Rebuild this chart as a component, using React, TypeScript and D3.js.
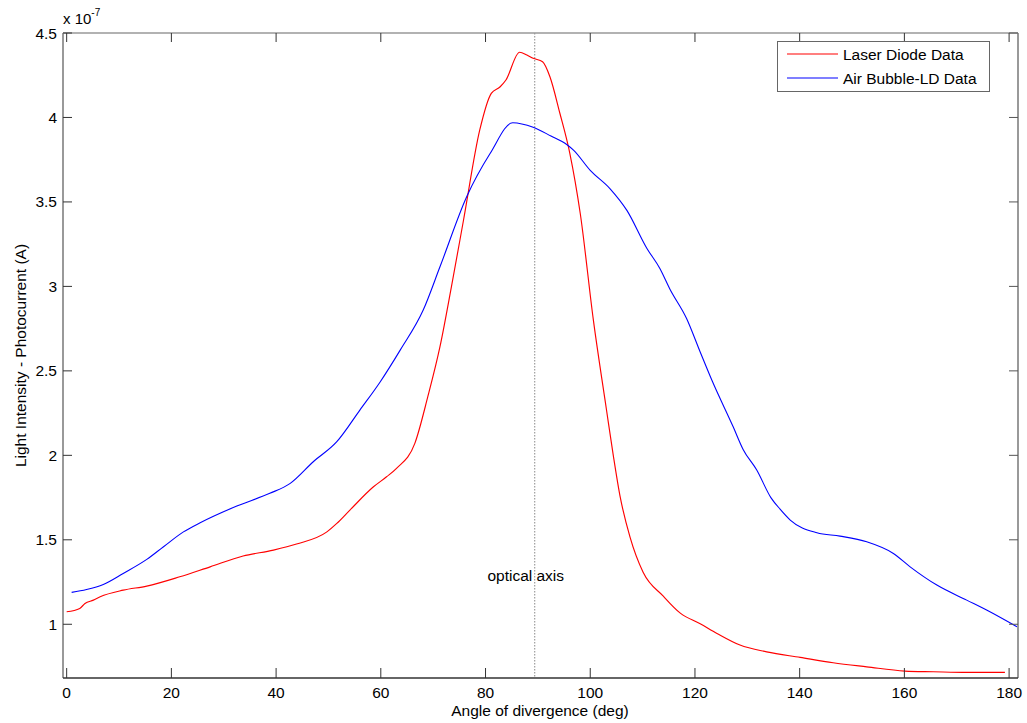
import React from "react";
import * as d3 from "d3";

const laserX = [0, 2.5, 3.5, 5.1, 6.4, 10.8, 15.3, 21.6, 27.4, 33.7, 39.5, 43.9, 49.7, 51.6, 54.1, 58.6, 61.1, 63, 66.5, 69, 71.3, 73.5, 75.8, 78.9, 81.1, 82.8, 83.9, 86.5, 87.9, 89.1, 90.9, 92.3, 94.2, 96.1, 98.1, 100.6, 103.1, 104.4, 105.7, 107.6, 110.1, 114, 117.2, 121, 124.2, 128.6, 133.7, 140.1, 146.4, 152.8, 160.1, 165.5, 171.9, 179.2];
const laserY = [1.074, 1.094, 1.123, 1.143, 1.163, 1.202, 1.226, 1.281, 1.34, 1.404, 1.439, 1.475, 1.547, 1.597, 1.676, 1.814, 1.873, 1.923, 2.071, 2.35, 2.643, 3.0, 3.393, 3.926, 4.143, 4.182, 4.222, 4.386, 4.37, 4.35, 4.33, 4.241, 4.025, 3.788, 3.43, 2.8, 2.27, 2.0, 1.757, 1.516, 1.308, 1.165, 1.066, 1.003, 0.946, 0.877, 0.837, 0.804, 0.772, 0.748, 0.723, 0.719, 0.715, 0.715];

const bubbleX = [0.95, 3.8, 7, 10.8, 15.3, 18.5, 22.3, 25.5, 32.5, 38.8, 42.7, 47.1, 51.6, 56, 59.9, 63.7, 68.1, 71.3, 76.4, 80.9, 85.2, 89.1, 92.5, 95.5, 96.8, 100, 103.8, 107, 110.8, 113.3, 115.2, 118.4, 121, 123.3, 127.3, 129.2, 131.8, 134.5, 136.3, 138.2, 143.3, 147.7, 152.8, 157.9, 161.1, 166.2, 171.9, 175.7, 181.5];
const bubbleY = [1.189, 1.206, 1.236, 1.301, 1.384, 1.459, 1.547, 1.601, 1.7, 1.775, 1.834, 1.962, 2.081, 2.268, 2.436, 2.623, 2.86, 3.116, 3.531, 3.788, 3.969, 3.942, 3.89, 3.84, 3.807, 3.687, 3.578, 3.45, 3.226, 3.106, 2.985, 2.81, 2.612, 2.44, 2.169, 2.035, 1.913, 1.75, 1.68, 1.617, 1.542, 1.522, 1.488, 1.419, 1.34, 1.232, 1.143, 1.084, 0.985];

const xTicks = [0, 20, 40, 60, 80, 100, 120, 140, 160, 180];
const yTicks = [1, 1.5, 2, 2.5, 3, 3.5, 4, 4.5];
const yTickLabels = ["1", "1.5", "2", "2.5", "3", "3.5", "4", "4.5"];
const opticalAxisX = 89.4;
const seriesNames = ["Laser Diode Data", "Air Bubble-LD Data"];

const W = 1027;
const H = 723;
const L = 63, R = 1018, T = 33, B = 678;

export default function App() {
  const x = d3.scaleLinear().domain([-0.7, 181.7]).range([L, R]);
  const y = d3.scaleLinear().domain([0.682, 4.5]).range([B, T]);
  const line = d3
    .line<[number, number]>()
    .x((d) => x(d[0]))
    .y((d) => y(d[1]))
    .curve(d3.curveMonotoneX);
  const laser = laserX.map((v, i) => [v, laserY[i]] as [number, number]);
  const bubble = bubbleX.map((v, i) => [v, bubbleY[i]] as [number, number]);
  const font = "Arial, 'Liberation Sans', Helvetica, sans-serif";

  return (
    <svg
      width={W}
      height={H}
      style={{ position: "absolute", left: 0, top: 0, background: "#fff" }}
      fontFamily={font}
    >
      <defs>
        <clipPath id="plotclip">
          <rect x={L} y={T} width={R - L} height={B - T} />
        </clipPath>
      </defs>
      <rect x={0} y={0} width={W} height={H} fill="#fff" />
      {/* optical axis */}
      <line
        x1={x(opticalAxisX)}
        x2={x(opticalAxisX)}
        y1={T}
        y2={B}
        stroke="#888"
        strokeWidth={1}
        strokeDasharray="1.5,1.5"
      />
      <text x={x(opticalAxisX) - 9} y={581} fontSize={15.5} textAnchor="middle" fill="#000">
        optical axis
      </text>
      {/* curves */}
      <g clipPath="url(#plotclip)">
        <path d={line(laser) || ""} fill="none" stroke="#f00" strokeWidth={1.15} />
        <path d={line(bubble) || ""} fill="none" stroke="#00f" strokeWidth={1.1} />
      </g>
      {/* axes frame */}
      <line x1={L} x2={R} y1={T} y2={T} stroke="#999" strokeWidth={1.5} />
      <line x1={L} x2={L} y1={T} y2={B} stroke="#999" strokeWidth={2} />
      <line x1={R} x2={R} y1={T} y2={B} stroke="#999" strokeWidth={2} />
      <line x1={L} x2={R} y1={B} y2={B} stroke="#333" strokeWidth={1.5} />
      {/* x ticks */}
      {xTicks.map((t) => (
        <g key={"xt" + t}>
          <line x1={x(t)} x2={x(t)} y1={B} y2={B - 10} stroke="#333" strokeWidth={1} />
          <line x1={x(t)} x2={x(t)} y1={T} y2={T + 9} stroke="#333" strokeWidth={1} />
          <text x={x(t)} y={698} fontSize={15.5} textAnchor="middle" fill="#000">
            {t}
          </text>
        </g>
      ))}
      {/* y ticks */}
      {yTicks.map((t, i) => (
        <g key={"yt" + t}>
          <line x1={L} x2={L + 9} y1={y(t)} y2={y(t)} stroke="#333" strokeWidth={1} />
          <line x1={R} x2={R - 9} y1={y(t)} y2={y(t)} stroke="#555" strokeWidth={1} />
          <text x={57} y={y(t) + 5.5} fontSize={15.5} textAnchor="end" fill="#000">
            {yTickLabels[i]}
          </text>
        </g>
      ))}
      {/* exponent */}
      <text x={63} y={24} fontSize={15} fill="#000">
        x 10
        <tspan dy={-8} fontSize={10}>-7</tspan>
      </text>
      {/* axis labels */}
      <text x={540} y={716} fontSize={15.5} textAnchor="middle" fill="#000">
        Angle of divergence (deg)
      </text>
      <text
        transform={`translate(26,${(T + B) / 2}) rotate(-90)`}
        fontSize={15.5}
        textAnchor="middle"
        fill="#000"
      >
        Light Intensity - Photocurrent (A)
      </text>
      {/* legend */}
      <rect x={777.5} y={41.5} width={212} height={50} fill="#fff" stroke="#666" strokeWidth={1} />
      <line x1={787} x2={838} y1={54} y2={54} stroke="#f00" strokeWidth={1.2} />
      <line x1={787} x2={838} y1={78} y2={78} stroke="#00f" strokeWidth={1.2} />
      <text x={843} y={59.5} fontSize={15.5} fill="#000">
        {seriesNames[0]}
      </text>
      <text x={843} y={83.5} fontSize={15.5} fill="#000">
        {seriesNames[1]}
      </text>
    </svg>
  );
}
